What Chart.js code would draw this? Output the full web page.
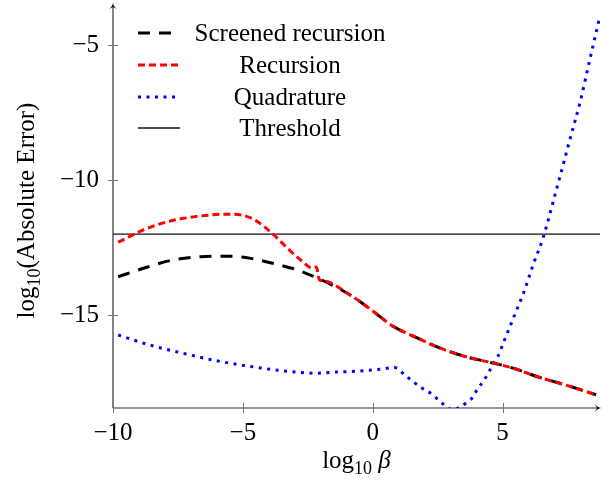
<!DOCTYPE html>
<html>
<head>
<meta charset="utf-8">
<script src="https://cdn.jsdelivr.net/npm/chart.js@4.4.1/dist/chart.umd.min.js"></script>
<style>
  html, body { margin: 0; padding: 0; background: #fff; }
  #wrap { width: 602px; height: 482px; }
</style>
</head>
<body>
<div id="wrap"><canvas id="c" width="602" height="482"></canvas></div>
<script>
// ---- data ----
const xTicks = [-10, -5, 0, 5];
const yTicks = [-15, -10, -5];
const seriesNames = ['Screened recursion', 'Recursion', 'Quadrature', 'Threshold'];

const screenedX = [-9.8, -8.7, -7.7, -6.65, -5.6, -4.7, -3.7, -3.0, -2.5, -1.9, -0.85, 0, 0.8, 1.6, 2.6, 3.6, 4.4, 5.4, 6.4, 7.4, 8.6];
const screenedY = [-13.58, -13.23, -12.96, -12.84, -12.82, -12.9, -13.12, -13.3, -13.48, -13.73, -14.27, -14.85, -15.43, -15.8, -16.23, -16.55, -16.73, -16.97, -17.31, -17.59, -17.96];

const recursionX = [-9.8, -8.8, -7.9, -6.9, -5.6, -5.0, -4.5, -3.8, -3.2, -2.7, -2.35, -2.17, -2.05, -1.9, -0.85, 0, 0.8, 1.6, 2.6, 3.6, 4.4, 5.4, 6.4, 7.4, 8.6];
const recursionY = [-12.3, -11.83, -11.54, -11.36, -11.26, -11.3, -11.5, -12.04, -12.6, -13.02, -13.25, -13.22, -13.7, -13.73, -14.27, -14.85, -15.43, -15.8, -16.23, -16.55, -16.73, -16.97, -17.31, -17.59, -17.96];

const quadratureX = [-9.8, -8.6, -7.3, -6.0, -4.7, -3.45, -2.2, -1.5, -0.9, -0.25, 0.4, 0.8, 1.3, 1.8, 2.3, 2.5, 2.77, 3.09, 3.38, 3.65, 3.86, 4.0, 4.18, 4.35, 4.5, 4.67, 4.82, 5.04, 5.27, 5.5, 5.8, 6.17, 6.55, 7.05, 7.6, 8.0, 8.35, 8.75, 8.85];
const quadratureY = [-15.74, -16.11, -16.42, -16.7, -16.91, -17.07, -17.16, -17.12, -17.1, -17.06, -17.0, -16.94, -17.28, -17.65, -17.95, -18.12, -18.35, -18.52, -18.4, -18.22, -18.04, -17.8, -17.56, -17.32, -17.06, -16.79, -16.54, -16.01, -15.46, -14.91, -14.2, -13.15, -12.16, -10.43, -8.46, -7.04, -5.56, -3.89, -3.45];

const thresholdX = [-10, 8.75];
const thresholdY = [-12, -12];

function pts(xs, ys) { return xs.map((x, i) => ({ x: x, y: ys[i] })); }

const FONT = '"Liberation Serif", "DejaVu Serif", serif';
const FS = 25;

const axesPlugin = {
  id: 'axesDeco',
  afterDraw(chart) {
    const ctx = chart.ctx;
    const xs = chart.scales.x, ys = chart.scales.y;
    const ca = chart.chartArea;
    ctx.save();
    // axis lines
    ctx.strokeStyle = '#333';
    ctx.lineWidth = 1.2;
    ctx.beginPath();
    ctx.moveTo(ca.left, ca.bottom); ctx.lineTo(ca.right - 1, ca.bottom);
    ctx.moveTo(ca.left, ca.bottom); ctx.lineTo(ca.left, ca.top + 1);
    ctx.stroke();
    // tick marks crossing
    ctx.strokeStyle = '#777';
    ctx.lineWidth = 1;
    ctx.beginPath();
    xTicks.forEach(v => { const p = Math.round(xs.getPixelForValue(v)) + 0.5; ctx.moveTo(p, ca.bottom - 5); ctx.lineTo(p, ca.bottom + 5); });
    yTicks.forEach(v => { const p = Math.round(ys.getPixelForValue(v)) + 0.5; ctx.moveTo(ca.left - 5, p); ctx.lineTo(ca.left + 5, p); });
    ctx.stroke();
    // arrows
    ctx.fillStyle = '#111';
    ctx.beginPath();
    ctx.moveTo(ca.right + 2, ca.bottom);
    ctx.quadraticCurveTo(ca.right - 2, ca.bottom, ca.right - 5, ca.bottom - 4);
    ctx.lineTo(ca.right - 3, ca.bottom);
    ctx.lineTo(ca.right - 5, ca.bottom + 4);
    ctx.quadraticCurveTo(ca.right - 2, ca.bottom, ca.right + 2, ca.bottom);
    ctx.fill();
    ctx.beginPath();
    ctx.moveTo(ca.left, ca.top - 3);
    ctx.quadraticCurveTo(ca.left, ca.top + 1, ca.left - 4, ca.top + 4);
    ctx.lineTo(ca.left, ca.top + 2);
    ctx.lineTo(ca.left + 4, ca.top + 4);
    ctx.quadraticCurveTo(ca.left, ca.top + 1, ca.left, ca.top - 3);
    ctx.fill();

    // axis titles
    ctx.fillStyle = '#000';
    ctx.textBaseline = 'alphabetic';
    function drawLog(x0, y0, rest, restItalic) {
      let x = x0;
      ctx.font = FS + 'px ' + FONT;
      ctx.fillText('log', x, y0); x += ctx.measureText('log').width;
      ctx.font = Math.round(FS * 0.7) + 'px ' + FONT;
      ctx.fillText('10', x, y0 + 6); x += ctx.measureText('10').width;
      ctx.font = (restItalic ? 'italic ' : '') + FS + 'px ' + FONT;
      ctx.fillText(rest, x, y0);
    }
    function widthLog(rest, restItalic) {
      ctx.font = FS + 'px ' + FONT; let w = ctx.measureText('log').width;
      ctx.font = Math.round(FS * 0.7) + 'px ' + FONT; w += ctx.measureText('10').width;
      ctx.font = (restItalic ? 'italic ' : '') + FS + 'px ' + FONT; w += ctx.measureText(rest).width;
      return w;
    }
    ctx.textAlign = 'left';
    const wx = widthLog(' \u03b2', true);
    const cx = (xs.getPixelForValue(xTicks[0]) + ca.right) / 2;
    drawLog(cx - wx / 2, 468, ' \u03b2', true);

    ctx.save();
    ctx.translate(34, (ca.top + ca.bottom) / 2 + 4);
    ctx.rotate(-Math.PI / 2);
    const wy = widthLog('(Absolute Error)', false);
    drawLog(-wy / 2, 0, '(Absolute Error)', false);
    ctx.restore();

    // legend
    const rows = [33, 65, 97, 128];
    chart.data.datasets.forEach((ds, i) => {
      const y = rows[i];
      ctx.save();
      ctx.strokeStyle = ds.borderColor;
      ctx.lineWidth = ds.borderWidth;
      ctx.setLineDash(ds.borderDash || []);
      ctx.lineCap = 'butt';
      ctx.beginPath();
      ctx.moveTo(ca.left + 25, y); ctx.lineTo(ca.left + 67, y);
      ctx.stroke();
      ctx.restore();
      ctx.font = FS + 'px ' + FONT;
      ctx.textAlign = 'center';
      ctx.textBaseline = 'alphabetic';
      ctx.fillStyle = '#000';
      ctx.fillText(ds.label, ca.left + 177, y + 8);
    });
    ctx.restore();
  }
};

new Chart(document.getElementById('c'), {
  type: 'line',
  data: {
    datasets: [
      { label: seriesNames[0], data: pts(screenedX, screenedY), borderColor: '#000', borderWidth: 3, borderDash: [12, 9], order: 3 },
      { label: seriesNames[1], data: pts(recursionX, recursionY), borderColor: '#ff0000', borderWidth: 3, borderDash: [7, 4], order: 1 },
      { label: seriesNames[2], data: pts(quadratureX, quadratureY), borderColor: '#0000ff', borderWidth: 3, borderDash: [3, 5.5], order: 2 },
      { label: seriesNames[3], data: pts(thresholdX, thresholdY), borderColor: '#111', borderWidth: 1.3, borderDash: [], order: 4, cubicInterpolationMode: 'default', tension: 0 }
    ]
  },
  options: {
    responsive: false,
    devicePixelRatio: 1,
    animation: false,
    layout: { padding: { top: 5, right: 2, left: 0, bottom: 0 } },
    elements: {
      point: { radius: 0 },
      line: { cubicInterpolationMode: 'monotone', borderCapStyle: 'butt', fill: false }
    },
    plugins: { legend: { display: false }, tooltip: { enabled: false } },
    scales: {
      x: {
        type: 'linear', min: -10, max: 8.75,
        grid: { display: false, drawTicks: false },
        border: { display: false },
        afterBuildTicks: s => { s.ticks = xTicks.map(v => ({ value: v })); },
        afterFit: s => { s.height = 74; s.paddingLeft = 0; s.paddingRight = 0; },
        ticks: {
          padding: 10, color: '#000', maxRotation: 0,
          font: { family: FONT, size: FS },
          callback: v => String(v).replace('-', '\u2212')
        }
      },
      y: {
        type: 'linear', min: -18.45, max: -3.5,
        grid: { display: false, drawTicks: false },
        border: { display: false },
        afterBuildTicks: s => { s.ticks = yTicks.map(v => ({ value: v })); },
        afterFit: s => { s.width = 113; s.paddingTop = 0; s.paddingBottom = 0; },
        ticks: {
          padding: 14, color: '#000',
          font: { family: FONT, size: FS },
          callback: v => String(v).replace('-', '\u2212')
        }
      }
    }
  },
  plugins: [axesPlugin]
});
</script>
</body>
</html>
